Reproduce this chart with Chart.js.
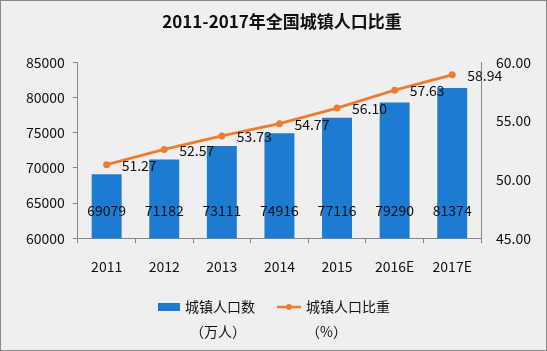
<!DOCTYPE html>
<html>
<head>
<meta charset="utf-8">
<script src="https://cdn.jsdelivr.net/npm/chart.js@4.4.0/dist/chart.umd.min.js"></script>
<style>
  html, body { margin: 0; padding: 0; background: #efefef; }
  #wrap { width: 547px; height: 351px; }
</style>
</head>
<body>
<div id="wrap"><canvas id="myChart" width="547" height="351"></canvas></div>
<script>
// data
const years = ['2011', '2012', '2013', '2014', '2015', '2016E', '2017E'];
const population = [69079, 71182, 73111, 74916, 77116, 79290, 81374];
const urbanRate = [51.27, 52.57, 53.73, 54.77, 56.10, 57.63, 58.94];
const seriesNames = ['城镇人口数', '城镇人口比重'];
const seriesUnits = ['（万人）', '（%）'];
const chartTitle = '2011-2017年全国城镇人口比重';

const blue = '#1e7bd2';
const orange = '#ef7b2f';
const font = '"Noto Sans CJK SC", "Noto Sans", sans-serif';

// background + frame
const frame = {
    id: 'frame',
    beforeDraw(chart) {
        const c = chart.ctx;
        c.save();
        c.fillStyle = '#efefef';
        c.fillRect(0, 0, chart.width, chart.height);
        c.strokeStyle = '#8a8a8a';
        c.lineWidth = 1;
        c.strokeRect(0.5, 0.5, chart.width - 1, chart.height - 1);
        c.restore();
    }
};

// value labels on bars and points
const valueLabels = {
    id: 'valueLabels',
    afterDatasetsDraw(chart) {
        const c = chart.ctx;
        c.save();
        c.font = '14px ' + font;
        c.fillStyle = '#111';
        c.textBaseline = 'middle';
        chart.getDatasetMeta(0).data.forEach((bar, i) => {
            c.textAlign = 'center';
            c.fillText(population[i], bar.x, chart.chartArea.bottom - 28);
        });
        chart.getDatasetMeta(1).data.forEach((pt, i) => {
            c.textAlign = 'left';
            c.fillText(urbanRate[i].toFixed(2), pt.x + 15, pt.y + 1);
        });
        c.restore();
    }
};

// legend with a unit line underneath
const legend2 = {
    id: 'legend2',
    afterDraw(chart) {
        const c = chart.ctx;
        c.save();
        c.font = '14px ' + font;
        c.fillStyle = '#111';
        c.textBaseline = 'middle';
        const y = 307;
        // bar item
        c.fillStyle = blue;
        c.fillRect(158, y - 4, 22, 8);
        c.fillStyle = '#111';
        c.textAlign = 'left';
        c.fillText(seriesNames[0], 185, y);
        c.textAlign = 'center';
        c.fillText(seriesUnits[0], 185 + c.measureText(seriesNames[0]).width / 2 - 2, y + 25);
        // line item
        c.strokeStyle = orange;
        c.lineWidth = 2.5;
        c.beginPath();
        c.moveTo(277, y);
        c.lineTo(301, y);
        c.stroke();
        c.fillStyle = orange;
        c.beginPath();
        c.arc(289, y, 3, 0, Math.PI * 2);
        c.fill();
        c.fillStyle = '#111';
        c.textAlign = 'left';
        c.fillText(seriesNames[1], 306, y);
        c.fillText(seriesUnits[1], 306, y + 25);
        c.restore();
    }
};

var ctx = document.getElementById('myChart');
var chart = new Chart(ctx, {
    type: 'bar',
    data: {
        labels: years,
        datasets: [{
            type: 'bar',
            label: seriesNames[0],
            data: population,
            backgroundColor: blue,
            yAxisID: 'y',
            barPercentage: 0.52,
            categoryPercentage: 1,
            order: 2
        }, {
            type: 'line',
            label: seriesNames[1],
            data: urbanRate,
            borderColor: orange,
            backgroundColor: orange,
            borderWidth: 2.8,
            pointRadius: 3.5,
            pointBackgroundColor: orange,
            pointBorderWidth: 0,
            yAxisID: 'y1',
            order: 1
        }]
    },
    options: {
        responsive: false,
        animation: false,
        layout: { padding: { left: 18, right: 1, top: 0, bottom: 61 } },
        plugins: {
            legend: { display: false },
            tooltip: { enabled: false },
            title: {
                display: true,
                text: chartTitle,
                color: '#111',
                font: { family: font, size: 17, weight: 'bold' },
                padding: { top: 11, bottom: 31 }
            }
        },
        scales: {
            x: {
                grid: { drawOnChartArea: false, tickLength: 5, color: '#888', offset: true },
                border: { color: '#888' },
                ticks: { color: '#111', font: { family: font, size: 14 }, padding: 15 }
            },
            y: {
                position: 'left',
                min: 60000,
                max: 85000,
                ticks: {
                    stepSize: 5000, color: '#111', font: { family: font, size: 14 }, padding: 8,
                    callback: v => String(v)
                },
                grid: { drawOnChartArea: false, tickLength: 5, color: '#888' },
                border: { color: '#888' }
            },
            y1: {
                position: 'right',
                min: 45,
                max: 60,
                ticks: {
                    stepSize: 5, color: '#111', font: { family: font, size: 14 }, padding: 15,
                    callback: v => v.toFixed(2)
                },
                grid: { drawOnChartArea: false, tickLength: 0, color: '#888' },
                border: { color: '#888' }
            }
        }
    },
    plugins: [frame, valueLabels, legend2]
});
</script>
</body>
</html>
